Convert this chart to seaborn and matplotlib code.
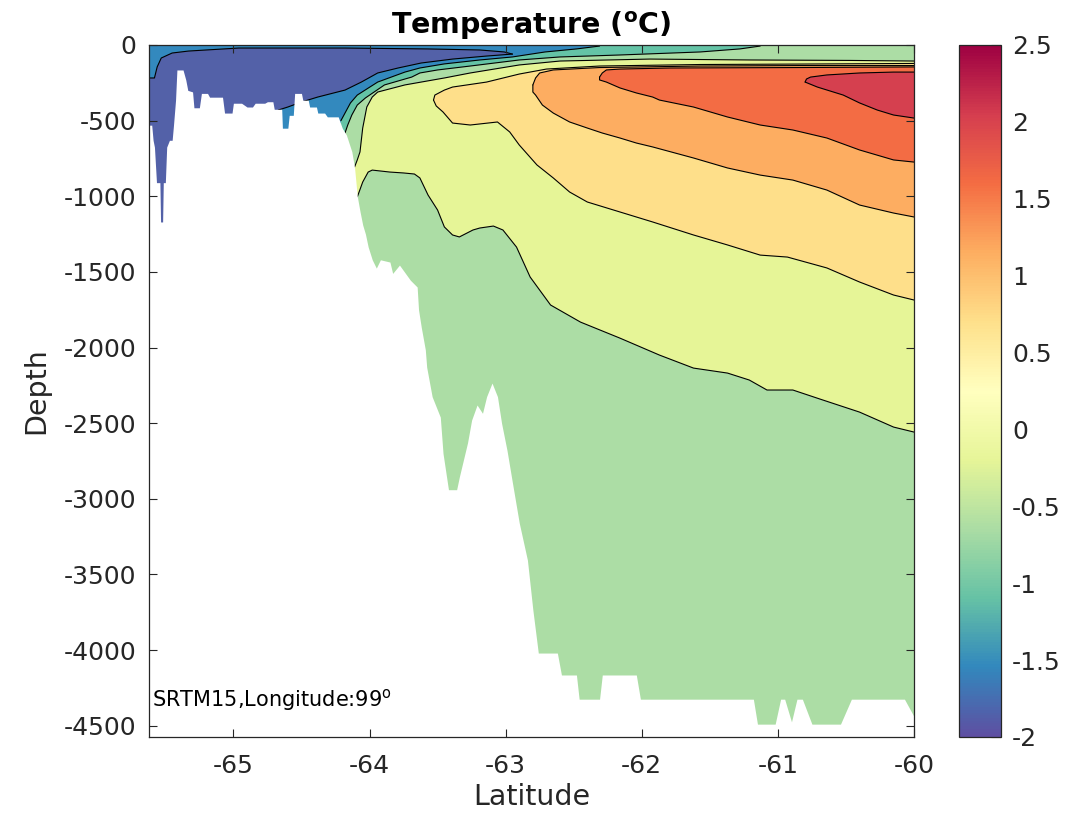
import numpy as np
import matplotlib
matplotlib.use("Agg")
import matplotlib.pyplot as plt
from matplotlib.colors import Normalize
from matplotlib.cm import ScalarMappable
import seaborn as sns

# ---------------- ticks / ranges ----------------
X_TICKS = [-65, -64, -63, -62, -61, -60]
X_TICKLABELS = ["-65", "-64", "-63", "-62", "-61", "-60"]
Y_TICKS = [0, -500, -1000, -1500, -2000, -2500, -3000, -3500, -4000, -4500]
Y_TICKLABELS = ["0", "-500", "-1000", "-1500", "-2000", "-2500", "-3000",
                "-3500", "-4000", "-4500"]
CB_TICKS = [-2, -1.5, -1, -0.5, 0, 0.5, 1, 1.5, 2, 2.5]
CB_TICKLABELS = ["-2", "-1.5", "-1", "-0.5", "0", "0.5", "1", "1.5", "2", "2.5"]
T_MIN, T_MAX = -2.0, 2.5
LAT_MIN, LAT_MAX = -65.62, -60.0
DEP_MIN, DEP_MAX = -4575, 0

# ---------------- bathymetry (SRTM15) ----------------
BATHY_LAT = [-65.62, -65.60, -65.59, -65.58, -65.565, -65.54, -65.535, -65.52,
             -65.515, -65.50, -65.49, -65.47, -65.45, -65.44, -65.425, -65.415,
             -65.37, -65.35, -65.335, -65.30, -65.29, -65.25, -65.235, -65.19,
             -65.175, -65.08, -65.065, -65.01, -65.00, -64.94, -64.90, -64.86,
             -64.84, -64.77, -64.75, -64.71, -64.70, -64.645, -64.64, -64.60,
             -64.59, -64.56, -64.55, -64.50, -64.49, -64.45, -64.44, -64.39,
             -64.38, -64.33, -64.31, -64.23, -64.20, -64.17, -64.13, -64.11,
             -64.09, -64.07, -64.05, -64.03, -64.01, -63.98, -63.95, -63.92,
             -63.85, -63.83, -63.78, -63.70, -63.65, -63.64, -63.62, -63.59,
             -63.58, -63.54, -63.48, -63.46, -63.42, -63.36, -63.34, -63.28,
             -63.25, -63.21, -63.17, -63.14, -63.10, -63.06, -63.03, -62.99,
             -62.95, -62.90, -62.84, -62.80, -62.76, -62.62, -62.59, -62.48,
             -62.46, -62.31, -62.29, -62.04, -62.01, -61.18, -61.15, -61.02,
             -60.98, -60.95, -60.90, -60.86, -60.82, -60.75, -60.54, -60.46,
             -60.07, -60.00]
BATHY_DEP = [-530, -530, -630, -675, -910, -910, -1170, -1170,
             -910, -910, -675, -630, -630, -530, -365, -165,
             -165, -230, -300, -310, -415, -415, -320, -320,
             -345, -345, -450, -450, -385, -385, -410, -410,
             -385, -385, -375, -375, -425, -425, -550, -550,
             -465, -465, -320, -320, -365, -365, -410, -410,
             -450, -450, -475, -475, -550, -595, -705, -810,
             -1000, -1100, -1190, -1250, -1335, -1420, -1475, -1420,
             -1435, -1510, -1455, -1555, -1600, -1750, -1865, -2015,
             -2130, -2325, -2460, -2700, -2940, -2940, -2855, -2630,
             -2480, -2380, -2435, -2325, -2235, -2325, -2500, -2680,
             -2895, -3160, -3405, -3735, -4020, -4020, -4165, -4165,
             -4325, -4325, -4165, -4165, -4325, -4325, -4490, -4490,
             -4325, -4325, -4475, -4325, -4325, -4490, -4490, -4325,
             -4325, -4440]

# ---------------- isotherms (lat, depth) ----------------
# cold side (shelf), curves run from seafloor towards the surface
ISO_M15_TOP_LAT = [-65.62, -65.58, -65.56, -65.53, -65.45, -65.33, -64.96,
                   -64.18, -63.57, -63.19, -63.01, -62.95]
ISO_M15_TOP_DEP = [-218, -218, -145, -86, -53, -40, -20, -20, -26, -33, -46, -60]
ISO_M15_LAT = [-62.95, -63.14, -63.39, -63.62, -63.79, -63.94, -64.06, -64.18,
               -64.38, -64.50, -64.60, -64.67]
ISO_M15_DEP = [-60, -73, -93, -119, -152, -185, -245, -298, -344, -377, -410, -430]
ISO_M10_LAT = [-64.21, -64.14, -64.09, -63.94, -63.74, -63.63, -63.45, -63.19,
               -62.95, -62.71, -62.48, -62.31]
ISO_M10_DEP = [-500, -383, -331, -245, -179, -152, -125, -99, -79, -46, -26, -7]
ISO_M05_LAT = [-64.18, -64.16, -64.13, -64.09, -64.03, -63.89, -63.69, -63.63,
               -63.50, -63.26, -62.90, -62.60, -62.16, -61.57, -61.28, -61.13]
ISO_M05_DEP = [-582, -529, -463, -397, -350, -264, -212, -185, -165, -139, -99,
               -79, -66, -46, -26, -7]

# warm side: upper (shallow) and lower (deep) branch of each isotherm
ISO_00_UP_LAT = [-64.14, -64.11, -64.09, -64.07, -64.05, -64.02, -63.98, -63.94,
                 -63.74, -63.45, -63.26, -62.90, -62.60, -61.94, -61.21, -60.47, -60.00]
ISO_00_UP_DEP = [-925, -807, -760, -707, -549, -410, -344, -311,
                 -264, -218, -185, -132, -106, -93, -99, -102, -106]
ISO_00_LO_LAT = [-64.14, -64.09, -64.05, -64.01, -63.98, -63.85, -63.75, -63.67,
                 -63.63, -63.57, -63.50, -63.45, -63.39, -63.34, -63.24, -63.19,
                 -63.09, -63.02, -62.92, -62.82, -62.67, -62.45, -62.16, -61.87,
                 -61.62, -61.37, -61.21, -61.08, -60.89, -60.69, -60.40, -60.15, -60.00]
ISO_00_LO_DEP = [-925, -1005, -906, -840, -827, -840, -846, -853,
                 -879, -992, -1091, -1203, -1256, -1269, -1223, -1210,
                 -1197, -1223, -1336, -1534, -1719, -1832, -1938, -2050,
                 -2136, -2169, -2215, -2281, -2281, -2341, -2427, -2526, -2559]
ISO_05_UP_LAT = [-63.53, -63.52, -63.45, -63.39, -63.14, -62.90, -62.70, -62.31,
                 -61.57, -60.84, -60.00]
ISO_05_UP_DEP = [-364, -331, -298, -278, -245, -192, -159, -139, -129, -126, -122]
ISO_05_LO_LAT = [-63.53, -63.51, -63.46, -63.39, -63.26, -63.06, -62.97, -62.90,
                 -62.77, -62.65, -62.53, -62.40, -62.16, -61.92, -61.62, -61.37,
                 -61.13, -60.93, -60.64, -60.40, -60.15, -60.00]
ISO_05_LO_DEP = [-364, -403, -443, -516, -529, -509, -575, -661,
                 -793, -879, -972, -1038, -1104, -1170, -1256, -1322,
                 -1389, -1402, -1474, -1567, -1653, -1686]
ISO_10_UP_LAT = [-62.80, -62.78, -62.75, -62.65, -62.31, -61.57, -60.84, -60.00]
ISO_10_UP_DEP = [-264, -218, -185, -165, -149, -139, -136, -136]
ISO_10_LO_LAT = [-62.80, -62.80, -62.78, -62.73, -62.65, -62.53, -62.40, -62.29,
                 -62.16, -62.04, -61.92, -61.62, -61.37, -61.13, -60.89, -60.64,
                 -60.40, -60.15, -60.00]
ISO_10_LO_DEP = [-264, -311, -331, -397, -450, -509, -549, -582,
                 -615, -648, -674, -747, -813, -860, -893, -959,
                 -1058, -1111, -1137]
ISO_15_UP_LAT = [-62.31, -62.29, -62.26, -62.16, -61.79, -60.84, -60.00]
ISO_15_UP_DEP = [-212, -185, -165, -159, -152, -149, -145]
ISO_15_LO_LAT = [-62.31, -62.31, -62.26, -62.16, -62.04, -61.92, -61.87, -61.62,
                 -61.37, -61.13, -60.89, -60.64, -60.40, -60.15, -60.00]
ISO_15_LO_DEP = [-212, -231, -245, -284, -317, -344, -364, -410,
                 -476, -529, -562, -615, -694, -760, -774]
ISO_20_UP_LAT = [-60.80, -60.79, -60.76, -60.64, -60.40, -60.15, -60.00]
ISO_20_UP_DEP = [-245, -225, -212, -198, -185, -179, -179]
ISO_20_LO_LAT = [-60.80, -60.71, -60.52, -60.40, -60.27, -60.15, -60.00]
ISO_20_LO_DEP = [-245, -278, -331, -383, -430, -463, -483]

# band colours (filled-contour levels)
C_DARKBLUE = "#5361a8"
C_BLUE = "#3389be"
C_TEAL = "#64c3a6"
C_GREEN = "#acdda5"
C_YELLOWGREEN = "#e6f597"
C_PALEORANGE = "#fedf8a"
C_LIGHTORANGE = "#fdad61"
C_REDORANGE = "#f36c44"
C_CRIMSON = "#d5404f"

CLOSE_DEPTH = -1500  # closing depth (hidden below seafloor) for shelf polygons

# ---------------- styling ----------------
sns.set_style("ticks")
plt.rcParams["font.family"] = ["DejaVu Sans"]
plt.rcParams["axes.unicode_minus"] = False
plt.rcParams["mathtext.fontset"] = "dejavusans"
TXT = "#262626"

fig = plt.figure(figsize=(10.84, 8.14), dpi=100)
ax = fig.add_axes([149 / 1084, 1 - 737 / 814, 765 / 1084, 692 / 814])
cax = fig.add_axes([959 / 1084, 1 - 737 / 814, 42 / 1084, 692 / 814])
ax.set_axisbelow(False)

# base band
ax.fill_between([LAT_MIN, LAT_MAX], DEP_MAX, DEP_MIN, color=C_GREEN, lw=0, zorder=0.2)

def band(up_lat, up_dep, lo_lat, lo_dep, color):
    plat = list(up_lat) + list(lo_lat)[::-1]
    pdep = list(up_dep) + list(lo_dep)[::-1]
    ax.fill(plat, pdep, color=color, lw=0, zorder=0.3)

band(ISO_00_UP_LAT, ISO_00_UP_DEP, ISO_00_LO_LAT, ISO_00_LO_DEP, C_YELLOWGREEN)
band(ISO_05_UP_LAT, ISO_05_UP_DEP, ISO_05_LO_LAT, ISO_05_LO_DEP, C_PALEORANGE)
band(ISO_10_UP_LAT, ISO_10_UP_DEP, ISO_10_LO_LAT, ISO_10_LO_DEP, C_LIGHTORANGE)
band(ISO_15_UP_LAT, ISO_15_UP_DEP, ISO_15_LO_LAT, ISO_15_LO_DEP, C_REDORANGE)
band(ISO_20_UP_LAT, ISO_20_UP_DEP, ISO_20_LO_LAT, ISO_20_LO_DEP, C_CRIMSON)

def cold(lat, dep, color, z):
    plat = [lat[0]] + list(lat) + [lat[-1], LAT_MIN, LAT_MIN]
    pdep = [CLOSE_DEPTH] + list(dep) + [DEP_MAX, DEP_MAX, CLOSE_DEPTH]
    ax.fill(plat, pdep, color=color, lw=0, zorder=z)

cold(ISO_M05_LAT, ISO_M05_DEP, C_TEAL, 0.4)
cold(ISO_M10_LAT, ISO_M10_DEP, C_BLUE, 0.45)
plat = list(ISO_M15_TOP_LAT) + list(ISO_M15_LAT) + [ISO_M15_LAT[-1], LAT_MIN]
pdep = list(ISO_M15_TOP_DEP) + list(ISO_M15_DEP) + [CLOSE_DEPTH, CLOSE_DEPTH]
ax.fill(plat, pdep, color=C_DARKBLUE, lw=0, zorder=0.5)

# contour lines
for la, de in [(ISO_M15_TOP_LAT, ISO_M15_TOP_DEP), (ISO_M15_LAT, ISO_M15_DEP),
               (ISO_M10_LAT, ISO_M10_DEP), (ISO_M05_LAT, ISO_M05_DEP),
               (ISO_00_UP_LAT, ISO_00_UP_DEP), (ISO_00_LO_LAT, ISO_00_LO_DEP),
               (ISO_05_UP_LAT, ISO_05_UP_DEP), (ISO_05_LO_LAT, ISO_05_LO_DEP),
               (ISO_10_UP_LAT, ISO_10_UP_DEP), (ISO_10_LO_LAT, ISO_10_LO_DEP),
               (ISO_15_UP_LAT, ISO_15_UP_DEP), (ISO_15_LO_LAT, ISO_15_LO_DEP),
               (ISO_20_UP_LAT, ISO_20_UP_DEP), (ISO_20_LO_LAT, ISO_20_LO_DEP)]:
    sns.lineplot(x=la, y=de, sort=False, estimator=None, color="black",
                 lw=0.8, ax=ax, zorder=0.8)

# seafloor mask
ax.fill_between(BATHY_LAT, BATHY_DEP, DEP_MIN - 200, color="white", lw=0, zorder=0.9)

ax.set_xlim(LAT_MIN, LAT_MAX)
ax.set_ylim(DEP_MIN, DEP_MAX)
ax.set_xticks(X_TICKS)
ax.set_xticklabels(X_TICKLABELS)
ax.set_yticks(Y_TICKS)
ax.set_yticklabels(Y_TICKLABELS)
ax.tick_params(direction="in", length=6, width=0.8, top=True, right=True,
               labelsize=18, colors=TXT, pad=9)
ax.tick_params(axis="x", pad=12)
for s in ax.spines.values():
    s.set_visible(True)
    s.set_color(TXT)
    s.set_linewidth(0.9)
ax.set_xlabel("Latitude", fontsize=20.5, color=TXT, labelpad=4)
ax.set_ylabel("Depth", fontsize=20.5, color=TXT, labelpad=10)
ax.set_title(r"Temperature ($\mathbf{^{o}}$C)", fontsize=20.5, fontweight="bold",
             color="black", pad=8)
ax.text(0.004, 0.053, r"SRTM15,Longitude:99$^{\mathrm{o}}$", transform=ax.transAxes,
        fontsize=15, color="black", ha="left", va="center", zorder=7)

# colour bar
sm = ScalarMappable(norm=Normalize(T_MIN, T_MAX), cmap="Spectral_r")
cb = fig.colorbar(sm, cax=cax, ticks=CB_TICKS)
cb.ax.set_yticklabels(CB_TICKLABELS)
cb.ax.tick_params(direction="in", length=7, width=0.8, labelsize=18, colors=TXT, pad=8)
cb.outline.set_edgecolor(TXT)
cb.outline.set_linewidth(0.9)

fig.savefig("out.png", dpi=100)
